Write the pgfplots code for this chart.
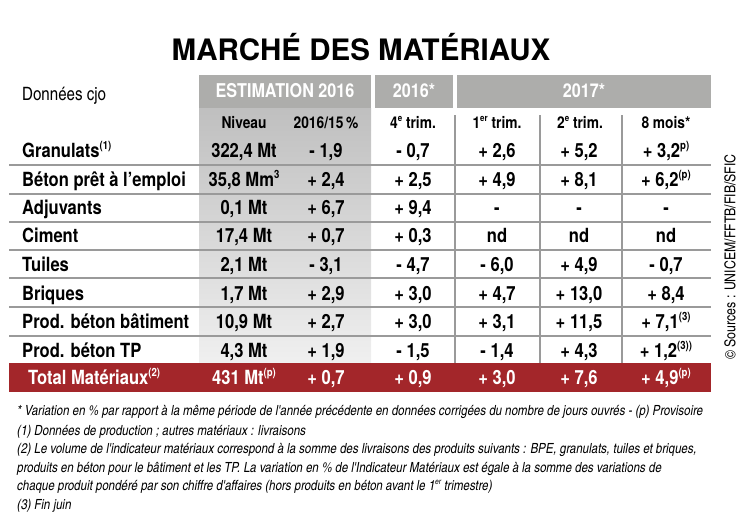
\documentclass[border=0pt]{standalone}
\usepackage{fontspec}
\usepackage{pgfplots}
\pgfplotsset{compat=1.18}
\setmainfont{TeX Gyre Heros}
\newfontfamily\cn{texgyreheroscn}[Extension=.otf, UprightFont=*-regular, BoldFont=*-bold, ItalicFont=*-italic, BoldItalicFont=*-bolditalic]
\newfontfamily\hb{TeX Gyre Heros}[FakeStretch=0.85]
\newcommand\fs[1]{\fontsize{#1}{#1}\selectfont}
\makeatletter
\protected\def\sps#1{\raisebox{0.4em}{\fontsize{\strip@pt\dimexpr0.58\dimexpr\f@size pt\relax\relax}{1}\selectfont #1}}
\makeatother
\definecolor{tred}{HTML}{A3262A}
\definecolor{hdr}{HTML}{ADADAB}
\definecolor{rulec}{HTML}{9A9A9A}
\pgfplotsset{cellcol/.style={only marks, mark=none, point meta=explicit symbolic,
  nodes near coords={\pgfplotspointmeta}, nodes near coords align={center},
  every node near coord/.append style={anchor=base, yshift=-7pt, inner sep=0pt, font=\hb\bfseries\fs{19.5}}}}
\begin{document}
\begin{tikzpicture}
\begin{axis}[scale only axis, width=746pt, height=525pt, xmin=0, xmax=746, ymin=0, ymax=525,
  y dir=reverse, axis lines=none, clip=false]
\path (axis cs:0,0) rectangle (axis cs:746,525);
% backgrounds
\fill[hdr] (axis cs:199,75) rectangle (axis cs:371,108);
\shade[top color=gray!50, bottom color=gray!12] (axis cs:199,108) rectangle (axis cs:371,363);
\fill[hdr] (axis cs:375,75) rectangle (axis cs:453,108);
\fill[hdr] (axis cs:457,75) rectangle (axis cs:711,108);
\pgfplotsinvokeforeach{165,194,222,250,278,307,336}{
  \draw[rulec, line width=1.4pt] (axis cs:9,#1) -- (axis cs:711,#1);}
\pgfplotsinvokeforeach{455,540,622}{
  \draw[rulec, line width=1.4pt] (axis cs:#1,115) -- (axis cs:#1,363);}
\fill[tred] (axis cs:9,363) rectangle (axis cs:711,392);
% title and headers
\node[anchor=base, inner sep=0pt] at (axis cs:361,60) {\bfseries\fs{29.5}MARCHÉ DES MATÉRIAUX};
\node[anchor=base west, inner sep=0pt] at (axis cs:22,100) {\cn\fs{18.4}Données cjo};
\begin{scope}[every node/.style={anchor=base, inner sep=0pt, text=white, font=\hb\bfseries\fs{19}}]
\node at (axis cs:285,97) {ESTIMATION 2016};
\node at (axis cs:414,97) {2016*};
\node at (axis cs:584,97) {2017*};
\end{scope}
\begin{scope}[every node/.style={anchor=base, inner sep=0pt, font=\hb\bfseries\fs{16.2}}]
\node at (axis cs:244,128) {Niveau};
\node at (axis cs:326,128) {2016/15\,\%};
\node at (axis cs:413,128) {4\sps{e} trim.};
\node at (axis cs:497,128) {1\sps{er} trim.};
\node at (axis cs:580,128) {2\sps{e} trim.};
\node at (axis cs:666,128) {8 mois*};
\end{scope}
% row labels
\addplot[cellcol, every node near coord/.append style={anchor=base west}] coordinates {
 (22,150) [Granulats\sps{(1)}]
 (22,179) [Béton prêt à l’emploi]
 (22,207) [Adjuvants]
 (22,235) [Ciment]
 (22,264) [Tuiles]
 (22,293) [Briques]
 (22,321) [Prod. béton bâtiment]
 (22,350) [Prod. béton TP]
};
% Niveau
\addplot[cellcol] coordinates {
 (244,150) [322,4 Mt]
 (244,179) [35,8 Mm\sps{3}]
 (244,207) [0,1 Mt]
 (244,235) [17,4 Mt]
 (244,264) [2,1 Mt]
 (244,293) [1,7 Mt]
 (244,321) [10,9 Mt]
 (244,350) [4,3 Mt]
};
% 2016/15 %
\addplot[cellcol] coordinates {
 (326,150) [- 1,9]
 (326,179) [+ 2,4]
 (326,207) [+ 6,7]
 (326,235) [+ 0,7]
 (326,264) [- 3,1]
 (326,293) [+ 2,9]
 (326,321) [+ 2,7]
 (326,350) [+ 1,9]
};
% 4e trim 2016
\addplot[cellcol] coordinates {
 (413,150) [- 0,7]
 (413,179) [+ 2,5]
 (413,207) [+ 9,4]
 (413,235) [+ 0,3]
 (413,264) [- 4,7]
 (413,293) [+ 3,0]
 (413,321) [+ 3,0]
 (413,350) [- 1,5]
};
% 1er trim 2017
\addplot[cellcol] coordinates {
 (497,150) [+ 2,6]
 (497,179) [+ 4,9]
 (497,207) [-]
 (497,235) [nd]
 (497,264) [- 6,0]
 (497,293) [+ 4,7]
 (497,321) [+ 3,1]
 (497,350) [- 1,4]
};
% 2e trim 2017
\addplot[cellcol] coordinates {
 (579,150) [+ 5,2]
 (579,179) [+ 8,1]
 (579,207) [-]
 (579,235) [nd]
 (579,264) [+ 4,9]
 (579,293) [+ 13,0]
 (579,321) [+ 11,5]
 (579,350) [+ 4,3]
};
% 8 mois
\addplot[cellcol] coordinates {
 (666,150) [+ 3,2\sps{p)}]
 (666,179) [+ 6,2\sps{(p)}]
 (666,207) [-]
 (666,235) [nd]
 (666,264) [- 0,7]
 (666,293) [+ 8,4]
 (666,321) [+ 7,1\sps{(3)}]
 (666,350) [+ 1,2\sps{(3))}]
};
% total row
\addplot[cellcol, every node near coord/.append style={anchor=base west, text=white}] coordinates {
 (28,377) [Total Matériaux\sps{(2)}]
};
\addplot[cellcol, every node near coord/.append style={text=white}] coordinates {
 (244,377) [431 Mt\sps{(p)}]
 (326,377) [+ 0,7]
 (413,377) [+ 0,9]
 (497,377) [+ 3,0]
 (579,377) [+ 7,6]
 (666,377) [+ 4,9\sps{(p)}]
};
% footnotes
\begin{scope}[every node/.style={anchor=base west, inner sep=0pt, font=\cn\itshape\fs{14}}]
\node at (axis cs:17,415) {* Variation en \% par rapport à la même période de l'année précédente en données corrigées du nombre de jours ouvrés - (p) Provisoire};
\node at (axis cs:17,435) {(1) Données de production ; autres matériaux : livraisons};
\node at (axis cs:17,453.5) {(2) Le volume de l'indicateur matériaux correspond à la somme des livraisons des produits suivants : BPE, granulats, tuiles et briques,};
\node at (axis cs:17,472) {produits en béton pour le bâtiment et les TP. La variation en \% de l'Indicateur Matériaux est égale à la somme des variations de};
\node at (axis cs:17,490.5) {chaque produit pondéré par son chiffre d'affaires (hors produits en béton avant le 1\sps{er} trimestre)};
\node at (axis cs:17,509) {(3) Fin juin};
\end{scope}
\node[rotate=90, inner sep=0pt] at (axis cs:730,257) {\cn\fs{15}\textcopyright\ Sources : UNICEM/FFTB/FIB/SFIC};
\end{axis}
\end{tikzpicture}
\end{document}
